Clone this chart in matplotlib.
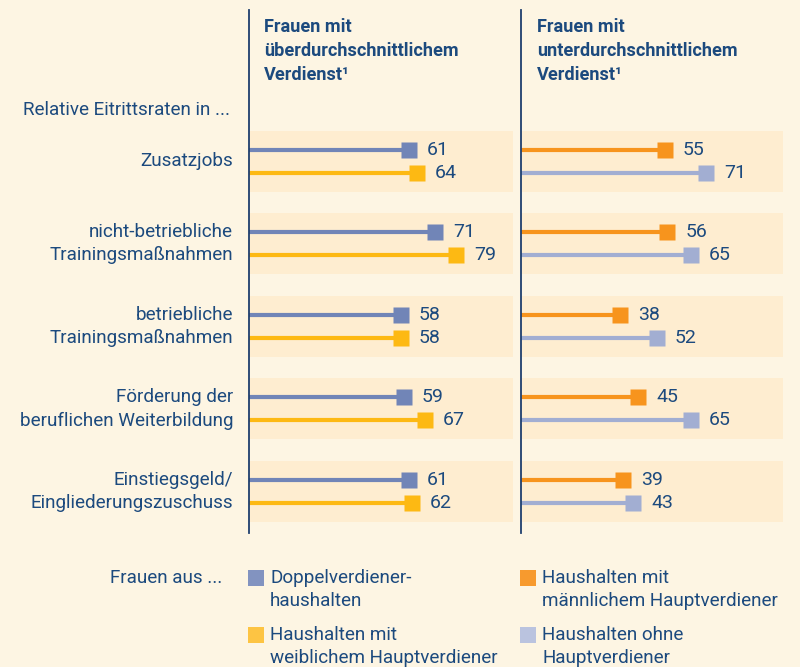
import matplotlib
matplotlib.use("Agg")
import matplotlib.pyplot as plt
from matplotlib.patches import Rectangle

plt.rcParams['font.family'] = ['Roboto', 'DejaVu Sans']

# data
categories = ["Zusatzjobs",
              "nicht-betriebliche\nTrainingsmaßnahmen",
              "betriebliche\nTrainingsmaßnahmen",
              "Förderung der\nberuflichen Weiterbildung",
              "Einstiegsgeld/\nEingliederungszuschuss"]
doppel = [61, 71, 58, 59, 61]
weiblich = [64, 79, 58, 67, 62]
maennlich = [55, 56, 38, 45, 39]
ohne = [71, 65, 52, 65, 43]

header_left = "Frauen mit\nüberdurchschnittlichem\nVerdienst¹"
header_right = "Frauen mit\nunterdurchschnittlichem\nVerdienst¹"
legend_labels = ["Doppelverdiener-\nhaushalten", "Haushalten mit\nweiblichem Hauptverdiener",
                 "Haushalten mit\nmännlichem Hauptverdiener", "Haushalten ohne\nHauptverdiener"]

BG = "#FDF5E3"
BAND = "#FEEDD0"
TXT = "#1C4A7E"
AXC = "#1F3F6E"
C_DOP = "#7185B7"
C_WEI = "#FDB913"
C_MAE = "#F7941D"
C_OHN = "#A2AED2"

W, H = 800, 667
fig = plt.figure(figsize=(8, 6.67), dpi=100, facecolor=BG)

def fx(px):
    return px / W

def fy(py):
    return 1 - py / H

top_px, bot_px = 10, 533
y0, dy = 161.3, 82.5
ylim = ((bot_px - y0) / dy, (top_px - y0) / dy)

def panel(left_px, width_px, s1, c1, s2, c2):
    ax = fig.add_axes([fx(left_px), fy(bot_px), width_px / W, (bot_px - top_px) / H])
    ax.set_facecolor(BG)
    ax.set_xlim(0, 100.4)
    ax.set_ylim(*ylim)
    for s in ["top", "right", "bottom"]:
        ax.spines[s].set_visible(False)
    ax.spines["left"].set_color(AXC)
    ax.spines["left"].set_linewidth(1.3)
    ax.spines["left"].set_zorder(5)
    ax.set_xticks([])
    ax.set_yticks([])
    for i in range(len(categories)):
        ax.axhspan(i - 0.37, i + 0.37, color=BAND, lw=0, zorder=0)
        for v, c, off in [(s1[i], c1, -0.14), (s2[i], c2, 0.14)]:
            ax.plot([0, v], [i + off, i + off], color=c, lw=3.0, solid_capstyle="butt", zorder=2)
            ax.plot([v], [i + off], marker="s", ms=12.2, color=c, mec="none", zorder=3)
            ax.annotate(str(v), xy=(v, i + off), xytext=(13, 0), textcoords="offset points",
                        ha="left", va="center", fontsize=14, color=TXT)
    return ax

axl = panel(248.5, 264, doppel, C_DOP, weiblich, C_WEI)
axr = panel(521, 262, maennlich, C_MAE, ohne, C_OHN)

for i, lab in enumerate(categories):
    axl.annotate(lab, xy=(0, i), xycoords=("axes fraction", "data"), xytext=(-11, 0),
                 textcoords="offset points", ha="right", va="center", fontsize=13.6,
                 color=TXT, linespacing=1.38)

fig.text(fx(264), fy(18), header_left, ha="left", va="top", fontsize=13.1,
         fontweight="bold", color=TXT, linespacing=1.42)
fig.text(fx(537), fy(18), header_right, ha="left", va="top", fontsize=13.1,
         fontweight="bold", color=TXT, linespacing=1.42)
fig.text(fx(23), fy(110), "Relative Eitrittsraten in ...", ha="left", va="center",
         fontsize=13.6, color=TXT)

# legend
fig.text(fx(110), fy(578), "Frauen aus ...", ha="left", va="center", fontsize=13.6, color=TXT)
leg_cols = ["#8293C0", "#FDC443", "#F79A2E", "#BAC3DF"]
leg_pos = [(248, 570), (248, 627), (520, 570), (520, 627)]
for (x, y), c, lab in zip(leg_pos, leg_cols, legend_labels):
    fig.add_artist(Rectangle((fx(x), fy(y + 16)), 16 / W, 16 / H, transform=fig.transFigure,
                             facecolor=c, edgecolor="none"))
    fig.text(fx(x + 22), fy(y - 1), lab, ha="left", va="top", fontsize=13.6,
             color=TXT, linespacing=1.38)

fig.savefig("out.png", dpi=100, facecolor=BG)
